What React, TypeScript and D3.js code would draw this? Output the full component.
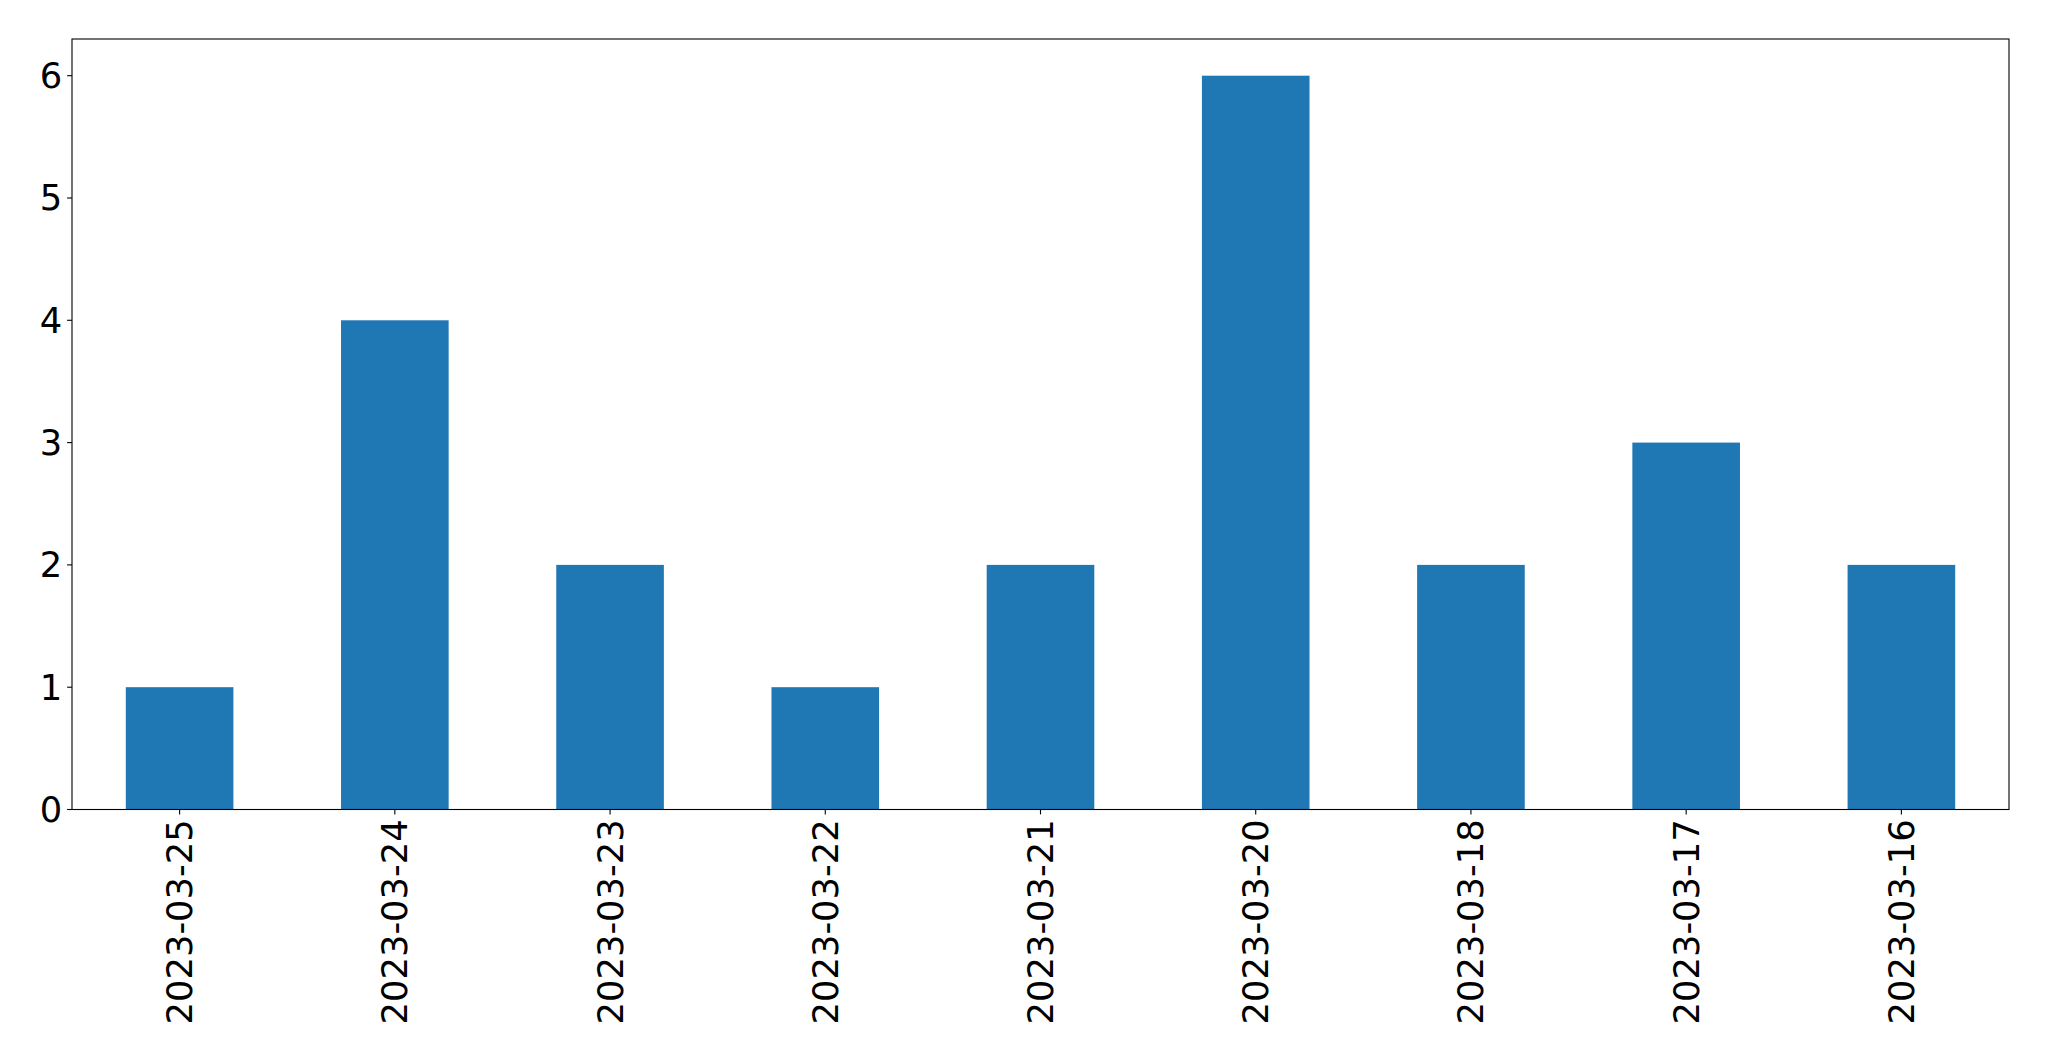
import React from "react";
import * as d3 from "d3";

const categories = ["2023-03-25", "2023-03-24", "2023-03-23", "2023-03-22", "2023-03-21", "2023-03-20", "2023-03-18", "2023-03-17", "2023-03-16"];
const values = [1, 4, 2, 1, 2, 6, 2, 3, 2];
const yTicks = [0, 1, 2, 3, 4, 5, 6];

export default function App() {
  const W = 2049, H = 1061;
  const left = 72, right = 2009, top = 39, bottom = 809.5;
  const x = d3.scaleBand<string>().domain(categories).range([left, right]).paddingInner(0.5).paddingOuter(0.25);
  const y = d3.scaleLinear().domain([0, 6.3]).range([bottom, top]);
  const font = "DejaVu Sans";
  const fs = 35.3;
  const tick = 4.9;
  const pad = 4.9;
  return (
    <svg width={W} height={H} style={{ position: "absolute", left: 0, top: 0, background: "#fff" }}>
      <rect x={0} y={0} width={W} height={H} fill="#fff" />
      {categories.map((c, i) => (
        <rect key={c} x={x(c)} y={y(values[i])} width={x.bandwidth()} height={y(0) - y(values[i])} fill="#1f77b4" />
      ))}
      <rect x={left} y={top} width={right - left} height={bottom - top} fill="none" stroke="#000" strokeWidth={1.1} />
      {yTicks.map((t) => (
        <g key={t}>
          <line x1={left - tick} x2={left} y1={y(t)} y2={y(t)} stroke="#000" strokeWidth={1.1} />
          <text x={left - tick - pad} y={y(t)} textAnchor="end" dominantBaseline="central" fontFamily={font} fontSize={fs} fill="#000">{t}</text>
        </g>
      ))}
      {categories.map((c) => {
        const cx = (x(c) as number) + x.bandwidth() / 2;
        return (
          <g key={c}>
            <line x1={cx} x2={cx} y1={bottom} y2={bottom + tick} stroke="#000" strokeWidth={1.1} />
            <text transform={`translate(${cx},${bottom + tick + pad}) rotate(-90)`} textAnchor="end" dominantBaseline="central" fontFamily={font} fontSize={fs} fill="#000">{c}</text>
          </g>
        );
      })}
    </svg>
  );
}
